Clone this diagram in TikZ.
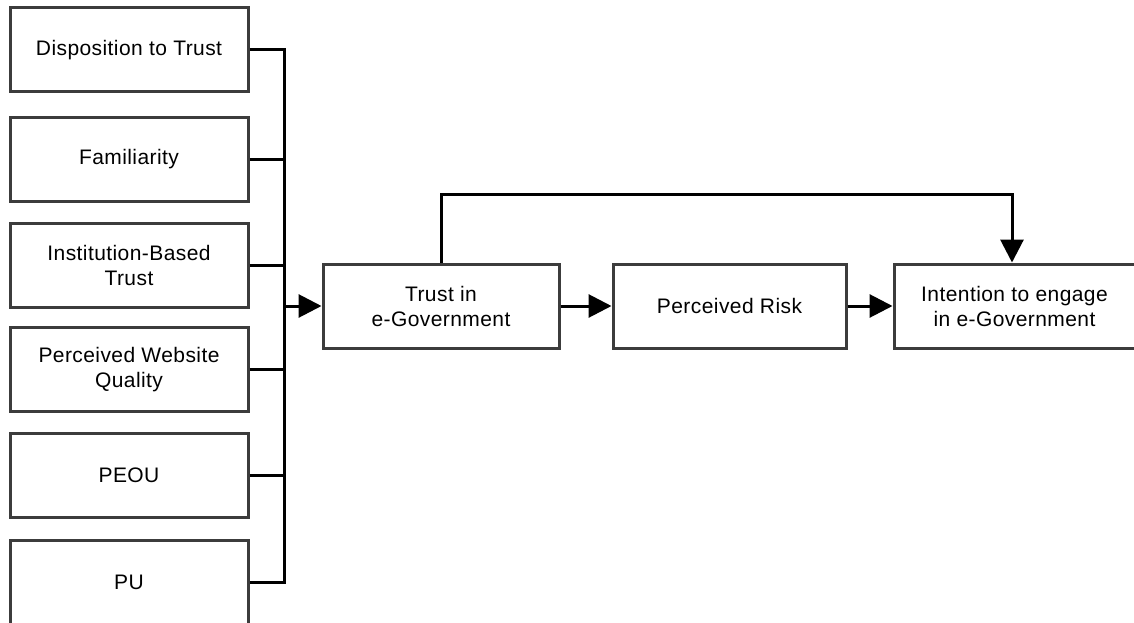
\documentclass[tikz,border=0pt]{standalone}
\usepackage{fontspec}
\setmainfont[LetterSpace=2]{Liberation Sans}
\usetikzlibrary{arrows.meta}
\definecolor{boxline}{HTML}{3C3C3C}
\begin{document}
\begin{tikzpicture}[x=1pt,y=-1pt,
  box/.style={draw=boxline,line width=3pt,fill=white,rectangle,inner sep=0pt,
    minimum height=84pt,align=center,font=\fontsize{21}{25}\selectfont},
  lbox/.style={box,minimum width=238pt},
  conn/.style={line width=3pt,draw=black},
  arr/.style={conn,-{Triangle[length=23pt,width=23pt]}}]
\useasboundingbox[fill=white] (0,0) rectangle (1134,623);
% left column
\node[lbox] (b1) at (129,50) {Disposition to Trust};
\node[lbox] (b2) at (129,159.5) {Familiarity};
\node[lbox] (b3) at (129,265) {Institution-Based\\Trust};
\node[lbox] (b4) at (129,369.5) {Perceived Website\\Quality};
\node[lbox] (b5) at (129,475) {PEOU};
\node[lbox] (b6) at (129,582) {PU};
% main row
\node[box,minimum width=236pt] (trust) at (441,306) {Trust in\\e-Government};
\node[box,minimum width=233pt] (risk) at (729.5,306) {Perceived Risk};
\node[box,minimum width=241pt] (intent) at (1014.5,306) {Intention to engage\\in e-Government};
% bus
\coordinate (busTop) at (284,50);
\coordinate (busBot) at (284,582);
\coordinate (loopR) at (1012,194);
\draw[conn] (b1.east) -- (b1.east -| busTop) -- (b6.east -| busBot) -- (b6.east);
\draw[conn] (b2.east) -- (b2.east -| busTop);
\draw[conn] (b3.east) -- (b3.east -| busTop);
\draw[conn] (b4.east) -- (b4.east -| busTop);
\draw[conn] (b5.east) -- (b5.east -| busTop);
\draw[arr] (trust.west -| busTop) -- (trust.west);
\draw[arr] (trust.east) -- (risk.west);
\draw[arr] (risk.east) -- (intent.west);
\draw[arr] (trust.north) |- (loopR) -- (intent.north -| loopR);
\end{tikzpicture}
\end{document}
